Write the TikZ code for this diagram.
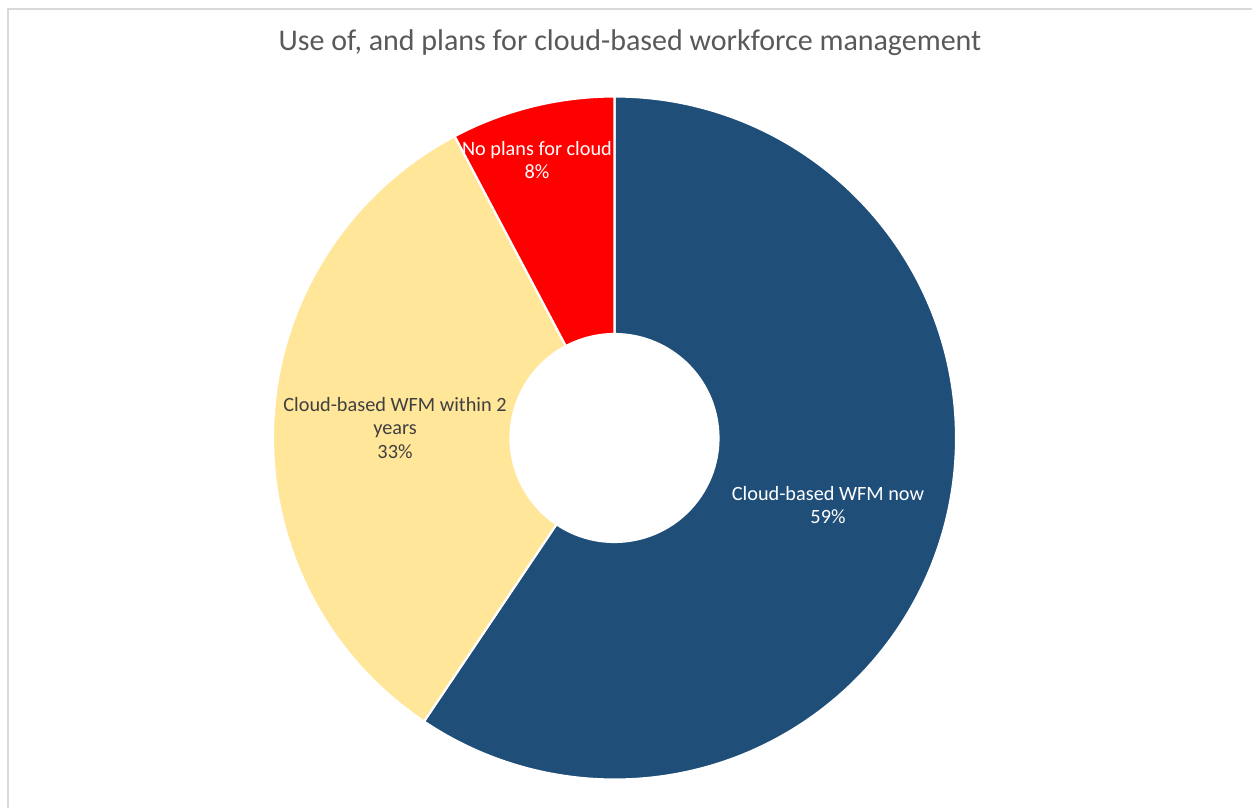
\documentclass[tikz,border=0pt]{standalone}
\usepackage{fontspec}
\setmainfont{Carlito}
\usepackage{xcolor}
\usetikzlibrary{calc,positioning}
\definecolor{wfmnow}{HTML}{1F4E79}
\definecolor{wfmsoon}{HTML}{FFE699}
\definecolor{wfmnone}{HTML}{FF0000}
\definecolor{titlegray}{HTML}{595959}
\definecolor{labelgray}{HTML}{404040}
\definecolor{framegray}{HTML}{D9D9D9}
\tikzset{
  slice/.style={draw=white, line width=1.6pt, line join=miter},
  label/.style={align=center, font=\fontsize{15.2}{17.8}\selectfont, inner sep=0pt},
  charttitle/.style={font=\fontsize{22.5}{26}\selectfont, text=titlegray, inner sep=0pt}
}

\begin{document}
\begin{tikzpicture}[x=0.75pt, y=0.75pt]
    \useasboundingbox (0,0) rectangle (1252,808);
    \coordinate (C) at (614.5,370);
    \def\Rout{341.5}
    \def\Rin{104}

    % chart frame
    \draw[framegray, line width=1.5pt] (1252,799) -- (8,799) -- (8,0);

    % slices, clockwise from the top
    \filldraw[slice, fill=wfmnow] ($(C)+(90:\Rout)$) arc (90:-123.9:\Rout)
        -- ($(C)+(-123.9:\Rin)$) arc (-123.9:90:\Rin) -- cycle;
    \filldraw[slice, fill=wfmsoon] ($(C)+(-123.9:\Rout)$) arc (-123.9:-242.1:\Rout)
        -- ($(C)+(117.9:\Rin)$) arc (-242.1:-123.9:\Rin) -- cycle;
    \filldraw[slice, fill=wfmnone] ($(C)+(117.9:\Rout)$) arc (117.9:90:\Rout)
        -- ($(C)+(90:\Rin)$) arc (90:117.9:\Rin) -- cycle;

    \node[charttitle] (title) at (630,765) {Use of, and plans for cloud-based workforce management};
    \node[label, text=white] (now) at (828,303) {Cloud-based WFM now\\59\%};
    \node[label, text=labelgray] (soon) at (395,380) {Cloud-based WFM within 2\\years\\33\%};
    \node[label, text=white] (none) at (537,648) {No plans for cloud\\8\%};
\end{tikzpicture}
\end{document}
